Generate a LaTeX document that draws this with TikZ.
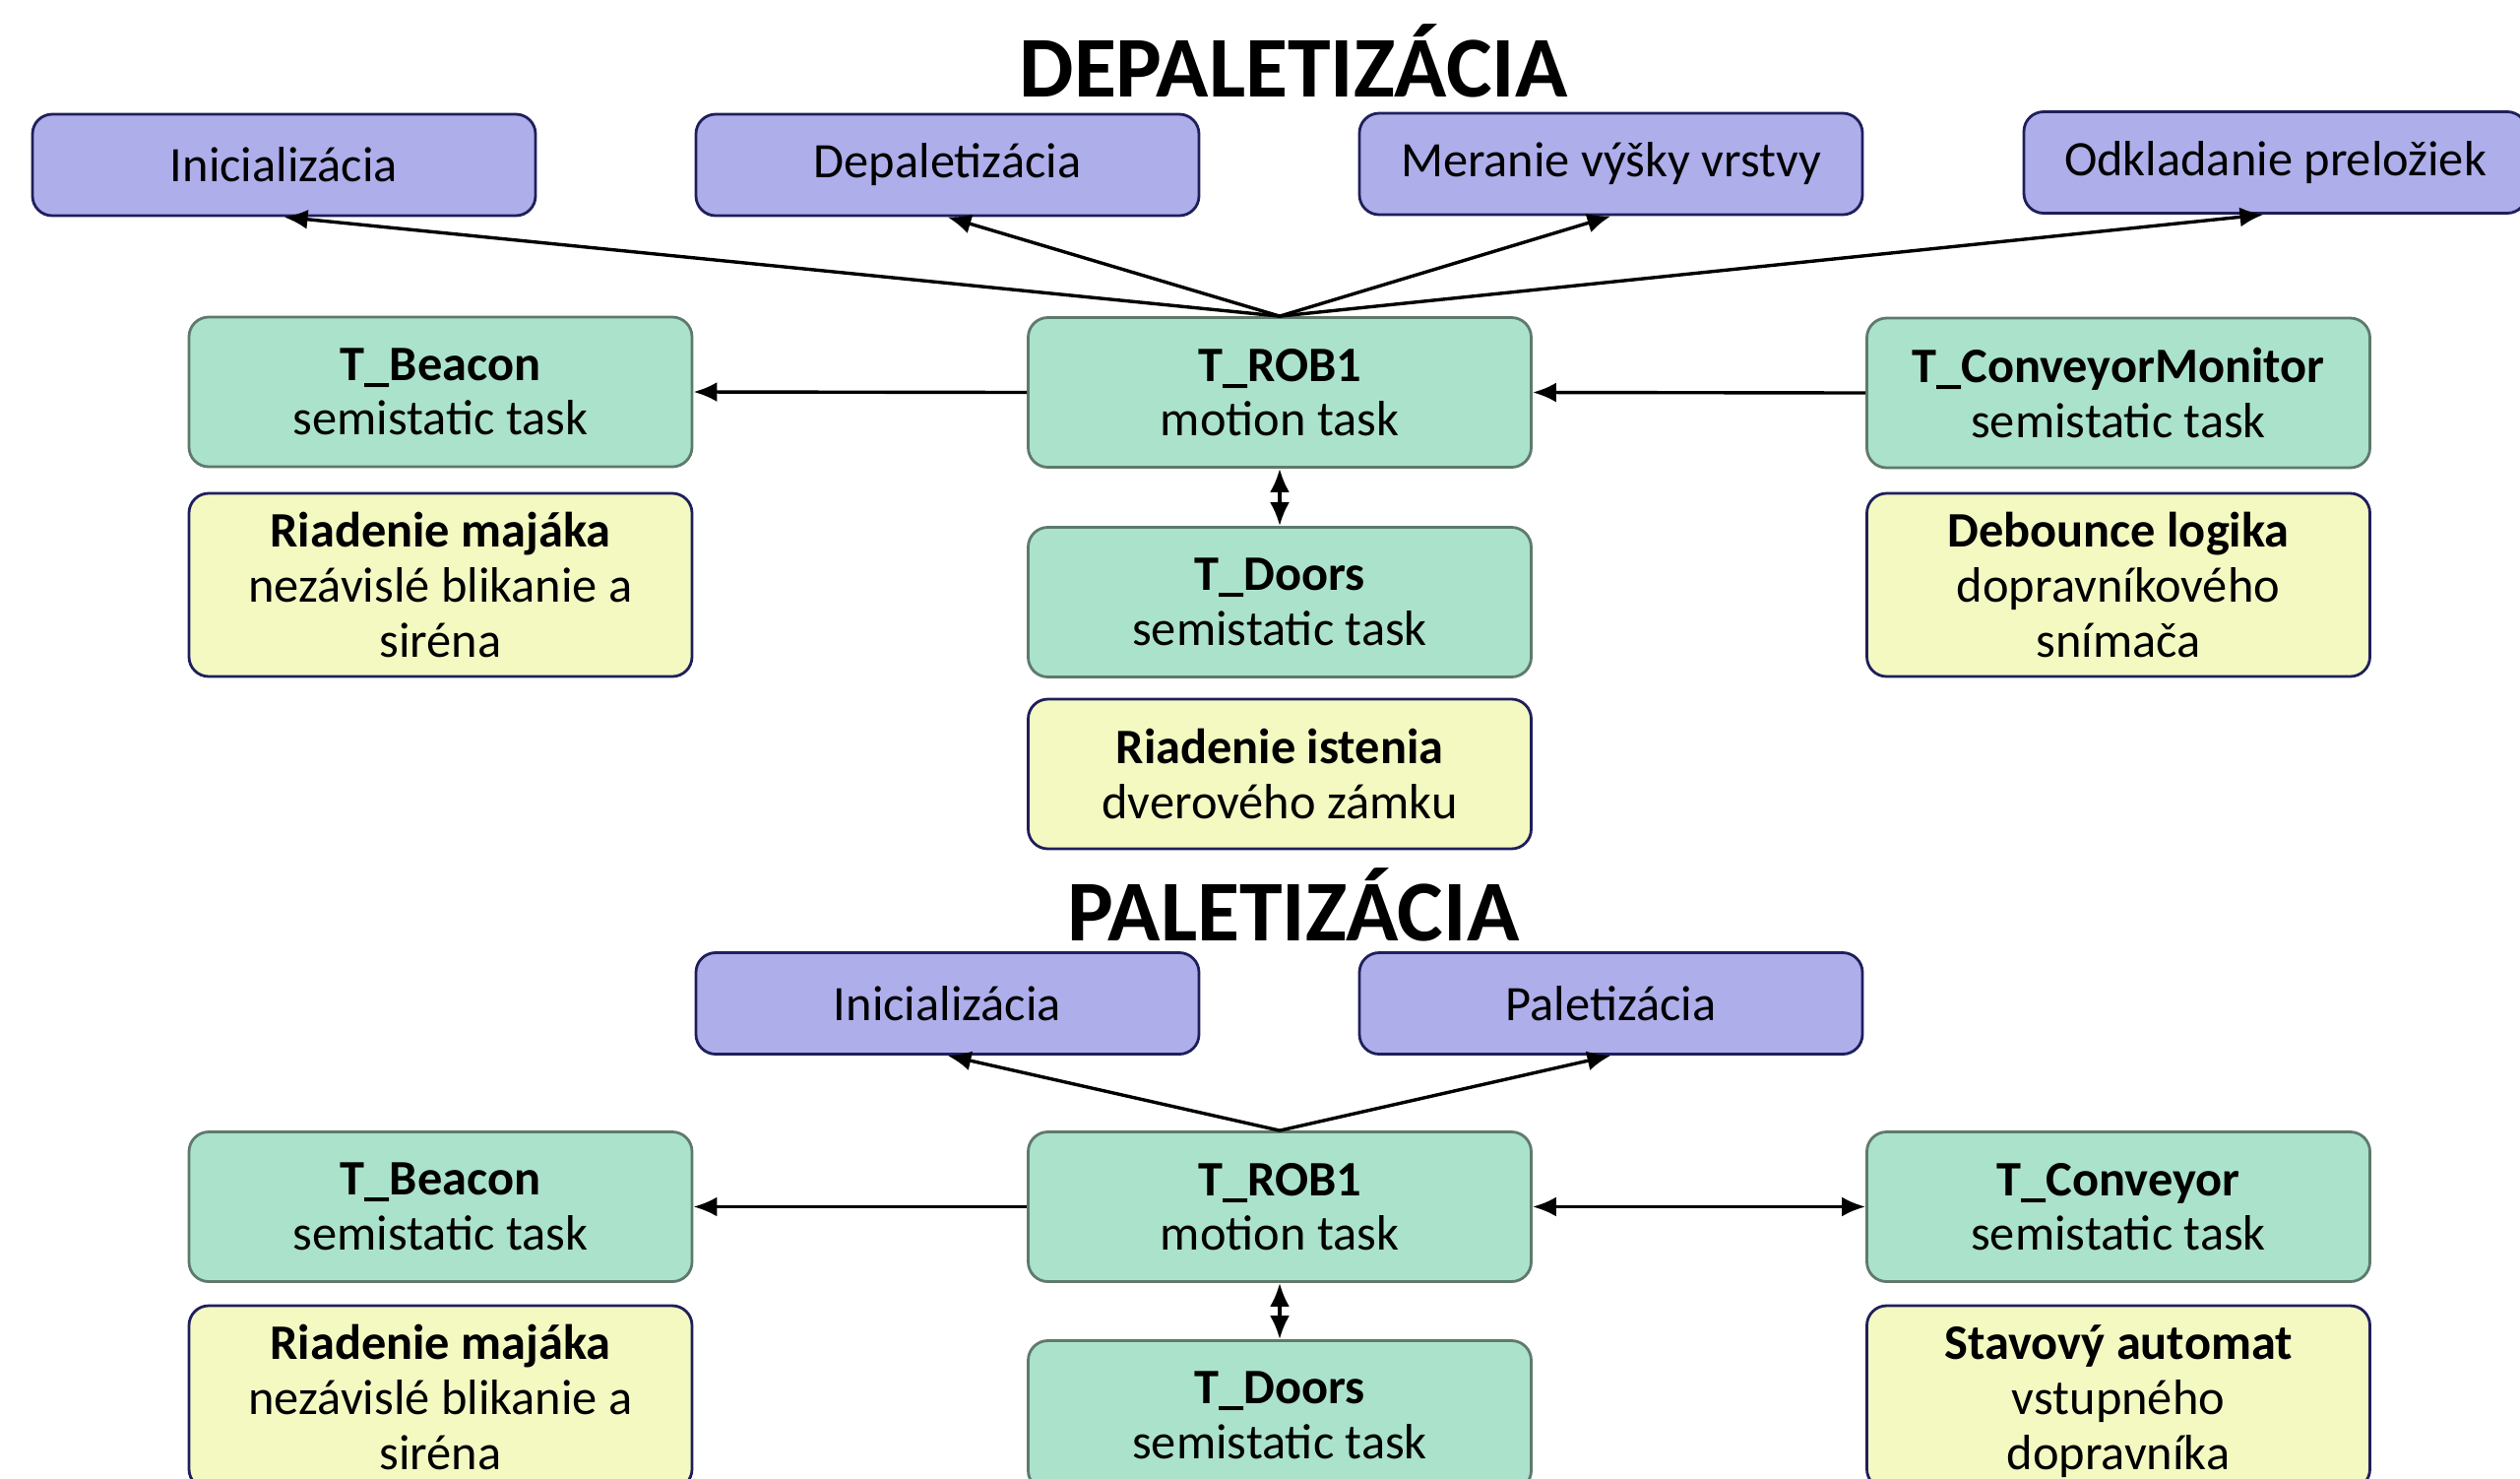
\documentclass[tikz,border=0pt]{standalone}
\usepackage{fontspec}
\setmainfont{Carlito}
\usetikzlibrary{arrows.meta}
\definecolor{purp}{HTML}{AEAEEB}
\definecolor{purpd}{HTML}{1F1F5C}
\definecolor{grn}{HTML}{ABE2CB}
\definecolor{grnd}{HTML}{5E7A6C}
\definecolor{yel}{HTML}{F3F9C1}
\definecolor{yeld}{HTML}{1F1F5C}
\begin{document}
\begin{tikzpicture}[x=0.25pt,y=-0.25pt,
 box/.style={rounded corners=5pt, line width=0.7pt, minimum width=127.75pt, align=center, font=\fontsize{12.6}{13.9}\selectfont, inner sep=0pt},
 pbox/.style={box, fill=purp, draw=purpd, minimum height=25.75pt},
 gbox/.style={box, fill=grn, draw=grnd, minimum height=38pt},
 ybox/.style={box, fill=yel, draw=yeld, minimum height=46.5pt},
 arr/.style={-{Latex[length=6pt,width=5pt]}, line width=0.85pt},
 darr/.style={{Latex[length=6pt,width=5pt]}-{Latex[length=6pt,width=5pt]}, line width=0.85pt},
 ttl/.style={font=\fontsize{22}{26}\selectfont\bfseries, inner sep=0pt, anchor=base}]
\useasboundingbox (0,0) rectangle (2560,1501);
% ---- DEPALETIZACIA ----
\node[ttl] (t1) at (1314,98) {DEPALETIZÁCIA};
\node[pbox] (ini1) at (288.5,167.5) {Inicializácia};
\node[pbox] (dep) at (962.5,167.5) {Depaletizácia};
\node[pbox] (mer) at (1636.5,166.5) {Meranie výšky vrstvy};
\node[pbox] (odk) at (2311.5,165) {Odkladanie preložiek};
\node[gbox] (bea1) at (447.5,398) {\textbf{T\_Beacon}\\semistatic task};
\node[gbox] (rob1) at (1300,398.5) {\textbf{T\_ROB1}\\motion task};
\node[gbox] (cmon) at (2152,399) {\textbf{T\_ConveyorMonitor}\\semistatic task};
\node[ybox] (maj1) at (447.5,594) {\textbf{Riadenie majáka}\\nezávislé blikanie a\\siréna};
\node[gbox] (door1) at (1300,611.5) {\textbf{T\_Doors}\\semistatic task};
\node[ybox] (deb) at (2152,594) {\textbf{Debounce logika}\\dopravníkového\\snímača};
\node[gbox, fill=yel, draw=yeld] (ist) at (1300,786) {\textbf{Riadenie istenia}\\dverového zámku};
\draw[arr] (rob1.north) -- (ini1.south);
\draw[arr] (rob1.north) -- (dep.south);
\draw[arr] (rob1.north) -- (mer.south);
\draw[arr] (rob1.north) -- ([xshift=-3pt]odk.south);
\draw[arr] (rob1.west) -- (bea1.east);
\draw[arr] (cmon.west) -- (rob1.east);
\draw[darr] (rob1.south) -- (door1.north);
% ---- PALETIZACIA ----
\node[ttl] (t2) at (1314,955) {PALETIZÁCIA};
\node[pbox] (ini2) at (962.5,1019) {Inicializácia};
\node[pbox] (pal) at (1636.5,1019) {Paletizácia};
\node[gbox] (bea2) at (447.5,1225.5) {\textbf{T\_Beacon}\\semistatic task};
\node[gbox] (rob2) at (1300,1225.5) {\textbf{T\_ROB1}\\motion task};
\node[gbox] (conv) at (2152,1225.5) {\textbf{T\_Conveyor}\\semistatic task};
\node[ybox] (maj2) at (447.5,1419) {\textbf{Riadenie majáka}\\nezávislé blikanie a\\siréna};
\node[gbox] (door2) at (1300,1437.5) {\textbf{T\_Doors}\\semistatic task};
\node[ybox] (stav) at (2152,1419) {\textbf{Stavový automat}\\vstupného\\\smash{dopravníka}};
\draw[arr] (rob2.north) -- (ini2.south);
\draw[arr] (rob2.north) -- (pal.south);
\draw[arr] (rob2.west) -- (bea2.east);
\draw[darr] (rob2.east) -- (conv.west);
\draw[darr] (rob2.south) -- (door2.north);
\end{tikzpicture}
\end{document}
